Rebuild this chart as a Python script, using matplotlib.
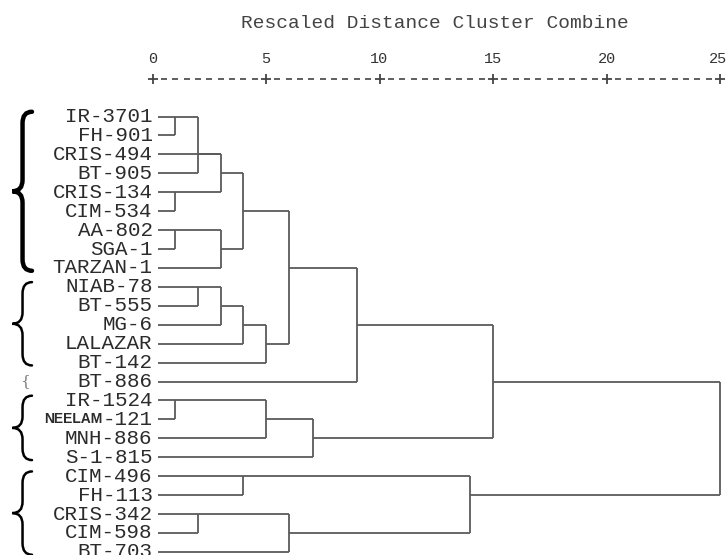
import numpy as np
import matplotlib
matplotlib.use("Agg")
import matplotlib.pyplot as plt
from matplotlib.path import Path
from matplotlib.patches import PathPatch
import matplotlib.transforms as mtransforms

# leaves, top to bottom
labels = ["IR-3701", "FH-901", "CRIS-494", "BT-905", "CRIS-134", "CIM-534",
          "AA-802", "SGA-1", "TARZAN-1", "NIAB-78", "BT-555", "MG-6",
          "LALAZAR", "BT-142", "BT-886", "IR-1524", "NEELAM-121", "MNH-886",
          "S-1-815", "CIM-496", "FH-113", "CRIS-342", "CIM-598", "BT-703"]

# merges (node ids start at 24), as drawn in the original SPSS output
merge_children = [[0, 1], [24, 3], [4, 5], [25, 2, 26], [6, 7], [28, 8],
                  [27, 29], [9, 10], [31, 11], [32, 12], [33, 13], [30, 34],
                  [35, 14], [15, 16], [37, 17], [38, 18], [36, 39], [19, 20],
                  [21, 22], [42, 23], [41, 43], [40, 44]]
merge_dist = [1, 2, 1, 3, 1, 3, 4, 2, 3, 4, 5, 6, 9, 1, 5, 7.07, 15, 4, 2, 6,
              14, 25]
merge_row = [0, 2, 4, 3, 6, 7, 5, 9, 10, 11, 12, 8, 11, 15, 16, 17, 14, 19,
             21, 22, 20, None]

# brace groups (first row, last row)
groups = [(0, 8), (9, 13), (15, 18), (19, 23)]
single_group = 14

ticks = [0, 5, 10, 15, 20, 25]
leaf_start = 0.25

n_leaves = len(labels)
line_col = "#5a5a5a"
text_col = "#2b2b2b"

fig = plt.figure(figsize=(7.27, 5.55), dpi=100)
ax = fig.add_axes([0, 0, 1, 1])
# pixel mapping: x = 152.5 + 22.7*d, y = 116.5 + 18.93*row
ax.set_xlim(-152.5 / 22.7, (727 - 152.5) / 22.7)
ax.set_ylim((555 - 116.5) / 18.93, -116.5 / 18.93)
ax.axis("off")


def node_row(i):
    if i < n_leaves:
        return i
    return merge_row[i - n_leaves]


def node_x(i):
    if i < n_leaves:
        return leaf_start
    return merge_dist[i - n_leaves]


for kids, d in zip(merge_children, merge_dist):
    rows = [node_row(k) for k in kids]
    for k, r in zip(kids, rows):
        ax.hlines(r, node_x(k), d, color=line_col, lw=1.3)
    ax.vlines(d, min(rows), max(rows), color=line_col, lw=1.3)

# leaf labels
mono = "Liberation Mono"
for i, lab in enumerate(labels):
    if lab.startswith("NEELAM"):
        t = ax.text(0.0, i, lab[6:], ha="right", va="center", family=mono,
                    fontsize=15, color=text_col)
        ax.annotate(lab[:6], xy=(0, 0.5), xycoords=t, ha="right", va="center",
                    family="Liberation Sans", fontweight="bold", fontsize=10,
                    color=text_col)
    else:
        ax.text(0.0, i, lab, ha="right", va="center", family=mono,
                fontsize=15, color=text_col)

# top scale
axis_row = (79 - 116.5) / 18.93
dash_x = [v for v in np.arange(0, 25.01, 0.5) if v % 5 != 0]
ax.plot(dash_x, [axis_row] * len(dash_x), ls="none", marker="_", ms=5,
        mew=1.2, color="#444444")
ax.plot(ticks, [axis_row] * len(ticks), ls="none", marker="+", ms=7,
        mew=1.3, color="#444444")
for tk in ticks:
    ax.text(tk - (0.1 if tk == 25 else 0), (59 - 116.5) / 18.93, str(tk),
            ha="center", va="center", family=mono, fontsize=11,
            color="#333333")
ax.text(12.45, (23 - 116.5) / 18.93, "Rescaled Distance Cluster Combine",
        ha="center", va="center", family=mono, fontsize=14, color="#444444")

# braces on the left
trans = mtransforms.blended_transform_factory(ax.transAxes, ax.transData)


def brace(r0, r1, lw):
    yt, yb = r0 - 0.25, r1 + 0.15
    ym = (yt + yb) / 2
    xr, xs, xt = 0.044, 0.031, 0.017
    a = 0.6
    verts = [(xr, yt), (xs, yt), (xs, yt + a), (xs, ym - a), (xs, ym),
             (xt, ym), (xs, ym), (xs, ym + a), (xs, yb - a), (xs, yb),
             (xr, yb)]
    codes = [Path.MOVETO, Path.CURVE3, Path.CURVE3, Path.LINETO, Path.CURVE3,
             Path.CURVE3, Path.CURVE3, Path.CURVE3, Path.LINETO, Path.CURVE3,
             Path.CURVE3]
    ax.add_patch(PathPatch(Path(verts, codes), fill=False, lw=lw,
                           edgecolor="black", transform=trans,
                           capstyle="round"))


for gi, (r0, r1) in enumerate(groups):
    brace(r0, r1, 3.2 if gi == 0 else 1.8)
ax.text(0.034, single_group, "{", transform=trans, ha="center", va="center",
        family="DejaVu Serif", fontsize=11, color="#777777")

fig.savefig("out.png", dpi=100)
